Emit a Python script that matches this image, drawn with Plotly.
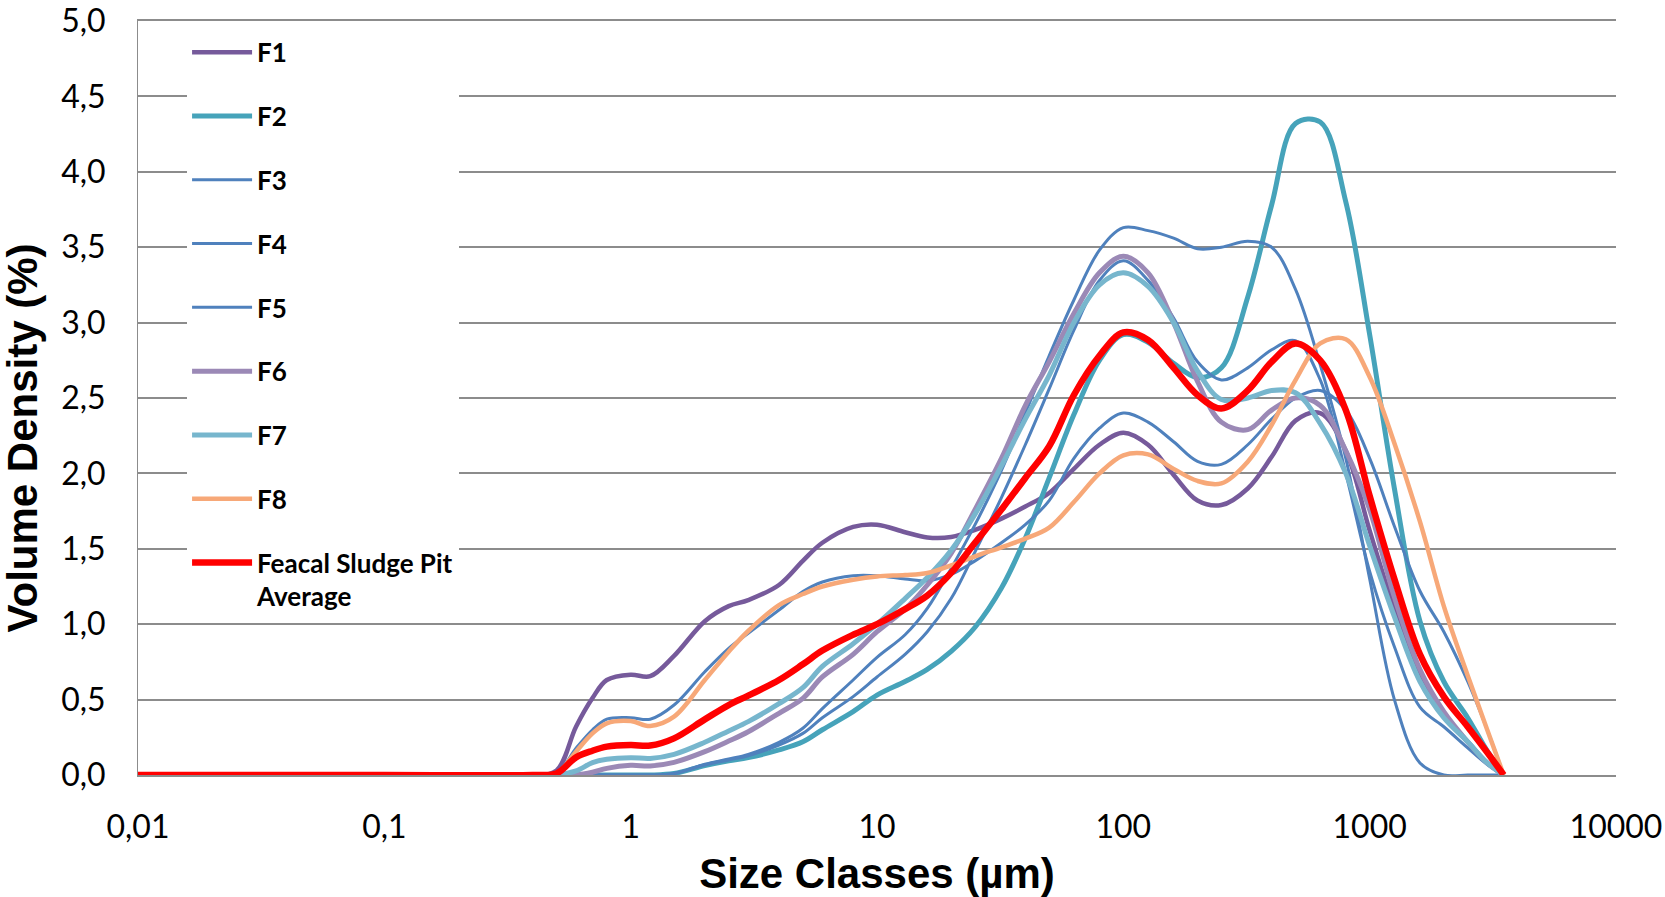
import plotly.graph_objects as go

# Particle size classes (µm)
sizes = [0.01, 0.1, 0.4, 0.5, 0.6, 0.7, 0.8, 1.0, 1.2, 1.5, 2, 2.5, 3, 4, 5, 6, 8,
         10, 13, 16, 20, 25, 32, 40, 50, 63, 80, 100, 126, 160, 200, 250, 320, 400,
         500, 630, 800, 1000, 1260, 1600, 2000, 2500, 3000, 3500]

# Volume density (%) per sample
f1 = [0, 0, 0, 0.03, 0.32, 0.51, 0.63, 0.665, 0.655, 0.79, 1.02, 1.12, 1.16, 1.26, 1.42, 1.54, 1.645,
      1.66, 1.61, 1.575, 1.578, 1.625, 1.70, 1.78, 1.87, 2.03, 2.19, 2.27, 2.19, 1.99, 1.82, 1.79, 1.90, 2.11,
      2.35, 2.40, 2.15, 1.62, 1.10, 0.65, 0.40, 0.22, 0.08, 0]
f2 = [0, 0, 0, 0, 0, 0, 0, 0, 0, 0.01, 0.062, 0.094, 0.115, 0.166, 0.22, 0.30, 0.42,
      0.53, 0.62, 0.70, 0.82, 0.98, 1.24, 1.57, 1.97, 2.39, 2.75, 2.92, 2.87, 2.73, 2.635, 2.70, 3.17, 3.78,
      4.32, 4.33, 3.80, 2.92, 1.90, 1.02, 0.62, 0.38, 0.16, 0]
f3 = [0, 0, 0, 0, 0, 0, 0, 0, 0, 0.01, 0.071, 0.106, 0.137, 0.217, 0.31, 0.44, 0.63,
      0.78, 0.93, 1.105, 1.37, 1.66, 2.02, 2.40, 2.78, 3.15, 3.48, 3.63, 3.61, 3.56, 3.49, 3.50, 3.54, 3.50,
      3.22, 2.72, 2.10, 1.30, 0.50, 0.08, 0, 0, 0, 0]
f4 = [0, 0, 0, 0, 0, 0, 0, 0, 0, 0.01, 0.066, 0.10, 0.128, 0.199, 0.276, 0.38, 0.52,
      0.65, 0.80, 0.95, 1.17, 1.48, 1.84, 2.19, 2.56, 2.95, 3.28, 3.41, 3.28, 3.03, 2.74, 2.62, 2.70, 2.82,
      2.88, 2.62, 2.00, 1.35, 0.85, 0.45, 0.32, 0.18, 0.07, 0]
f5 = [0, 0, 0, 0.01, 0.177, 0.30, 0.37, 0.38, 0.37, 0.464, 0.685, 0.84, 0.94, 1.094, 1.216, 1.28, 1.322,
      1.322, 1.30, 1.288, 1.33, 1.42, 1.54, 1.66, 1.82, 2.10, 2.30, 2.40, 2.34, 2.21, 2.08, 2.06, 2.19, 2.36,
      2.50, 2.55, 2.42, 2.10, 1.65, 1.22, 0.95, 0.62, 0.30, 0]
f6 = [0, 0, 0, 0, 0, 0.018, 0.044, 0.064, 0.06, 0.084, 0.155, 0.225, 0.287, 0.409, 0.508, 0.65, 0.80,
      0.95, 1.10, 1.26, 1.47, 1.76, 2.10, 2.45, 2.74, 3.06, 3.33, 3.44, 3.33, 3.00, 2.61, 2.34, 2.29, 2.42,
      2.50, 2.45, 2.15, 1.76, 1.18, 0.70, 0.42, 0.22, 0.08, 0]
f7 = [0, 0, 0, 0, 0.027, 0.082, 0.104, 0.115, 0.11, 0.137, 0.217, 0.292, 0.354, 0.473, 0.579, 0.72, 0.87,
      1.0, 1.17, 1.31, 1.49, 1.73, 2.05, 2.36, 2.65, 3.0, 3.25, 3.33, 3.24, 3.00, 2.68, 2.49, 2.50, 2.55,
      2.535, 2.33, 2.00, 1.52, 1.05, 0.62, 0.38, 0.22, 0.08, 0]
f8 = [0, 0, 0, 0.01, 0.155, 0.276, 0.343, 0.358, 0.325, 0.387, 0.63, 0.818, 0.955, 1.127, 1.20, 1.25, 1.295,
      1.317, 1.326, 1.34, 1.39, 1.45, 1.51, 1.567, 1.64, 1.81, 2.0, 2.12, 2.126, 2.03, 1.95, 1.934, 2.078, 2.321,
      2.619, 2.862, 2.89, 2.64, 2.20, 1.68, 1.12, 0.66, 0.30, 0]
pit_average = [0, 0, 0, 0.01, 0.117, 0.161, 0.188, 0.199, 0.195, 0.243, 0.369, 0.464, 0.526, 0.63, 0.734, 0.825, 0.93,
               1.0, 1.10, 1.19, 1.34, 1.54, 1.76, 1.97, 2.18, 2.52, 2.78, 2.935, 2.885, 2.70, 2.52, 2.43, 2.55, 2.74,
               2.862, 2.75, 2.42, 1.85, 1.30, 0.80, 0.52, 0.32, 0.15, 0]

x_tickvals = [0.01, 0.1, 1, 10, 100, 1000, 10000]
x_ticktext = ["0,01", "0,1", "1", "10", "100", "1000", "10000"]

series = [
    ("F1", f1, "#765A9B", 4.5),
    ("F2", f2, "#46A3BA", 5),
    ("F3", f3, "#4F81BD", 3),
    ("F4", f4, "#4F81BD", 3),
    ("F5", f5, "#4F81BD", 3),
    ("F6", f6, "#9B89B6", 5),
    ("F7", f7, "#77B6CD", 5),
    ("F8", f8, "#F7A878", 4.5),
    ("Feacal Sludge Pit<br>Average", pit_average, "#FF0000", 6.5),
]

fig = go.Figure()
for i, (name, vals, color, width) in enumerate(series):
    fig.add_trace(go.Scatter(
        x=sizes, y=vals, name=name, mode="lines",
        line=dict(color=color, width=width, shape="spline", smoothing=1.0),
        legendgroup=f"g{i}",
    ))

grid_grey = "#8C8C8C"
tick_font = dict(family="Lato, Open Sans, sans-serif", size=32, color="#000000")
title_font = dict(family="Liberation Sans, Arial, sans-serif", size=42, color="#000000", weight="bold")

fig.update_layout(
    width=1665, height=897,
    margin=dict(l=138, r=49, t=21, b=122, autoexpand=False),
    paper_bgcolor="white", plot_bgcolor="white",
    separators=",.",
    showlegend=True,
    legend=dict(
        x=0.0332, y=0.9897, xanchor="left", yanchor="top",
        bgcolor="white", borderwidth=0,
        font=dict(family="Lato, Open Sans, sans-serif", size=26, color="#000000", weight="bold"),
        tracegroupgap=27, itemwidth=60, valign="top",
        traceorder="grouped",
    ),
    xaxis=dict(
        type="log", range=[-2, 4],
        tickvals=x_tickvals, ticktext=x_ticktext,
        showgrid=False, zeroline=False,
        showline=True, mirror=True, linecolor=grid_grey, linewidth=2,
        ticks="outside", ticklen=23, tickcolor="rgba(0,0,0,0)",
        tickfont=tick_font,
        title=dict(text="Size Classes (µm)", font=title_font, standoff=20),
    ),
    yaxis=dict(
        range=[0, 5], dtick=0.5, tick0=0, tickformat=".1f",
        showgrid=True, gridcolor=grid_grey, gridwidth=2,
        zeroline=False, showline=True, linecolor=grid_grey, linewidth=1,
        ticks="outside", ticklen=25, tickcolor="rgba(0,0,0,0)",
        ticklabeloverflow="allow",
        tickfont=tick_font,
    ),
    annotations=[dict(
        text="Volume Density (%)", textangle=-90,
        xref="paper", yref="paper", x=-0.0775, y=0.447,
        xanchor="center", yanchor="middle", showarrow=False,
        font=title_font,
    )],
)

fig.write_html("out.html")
